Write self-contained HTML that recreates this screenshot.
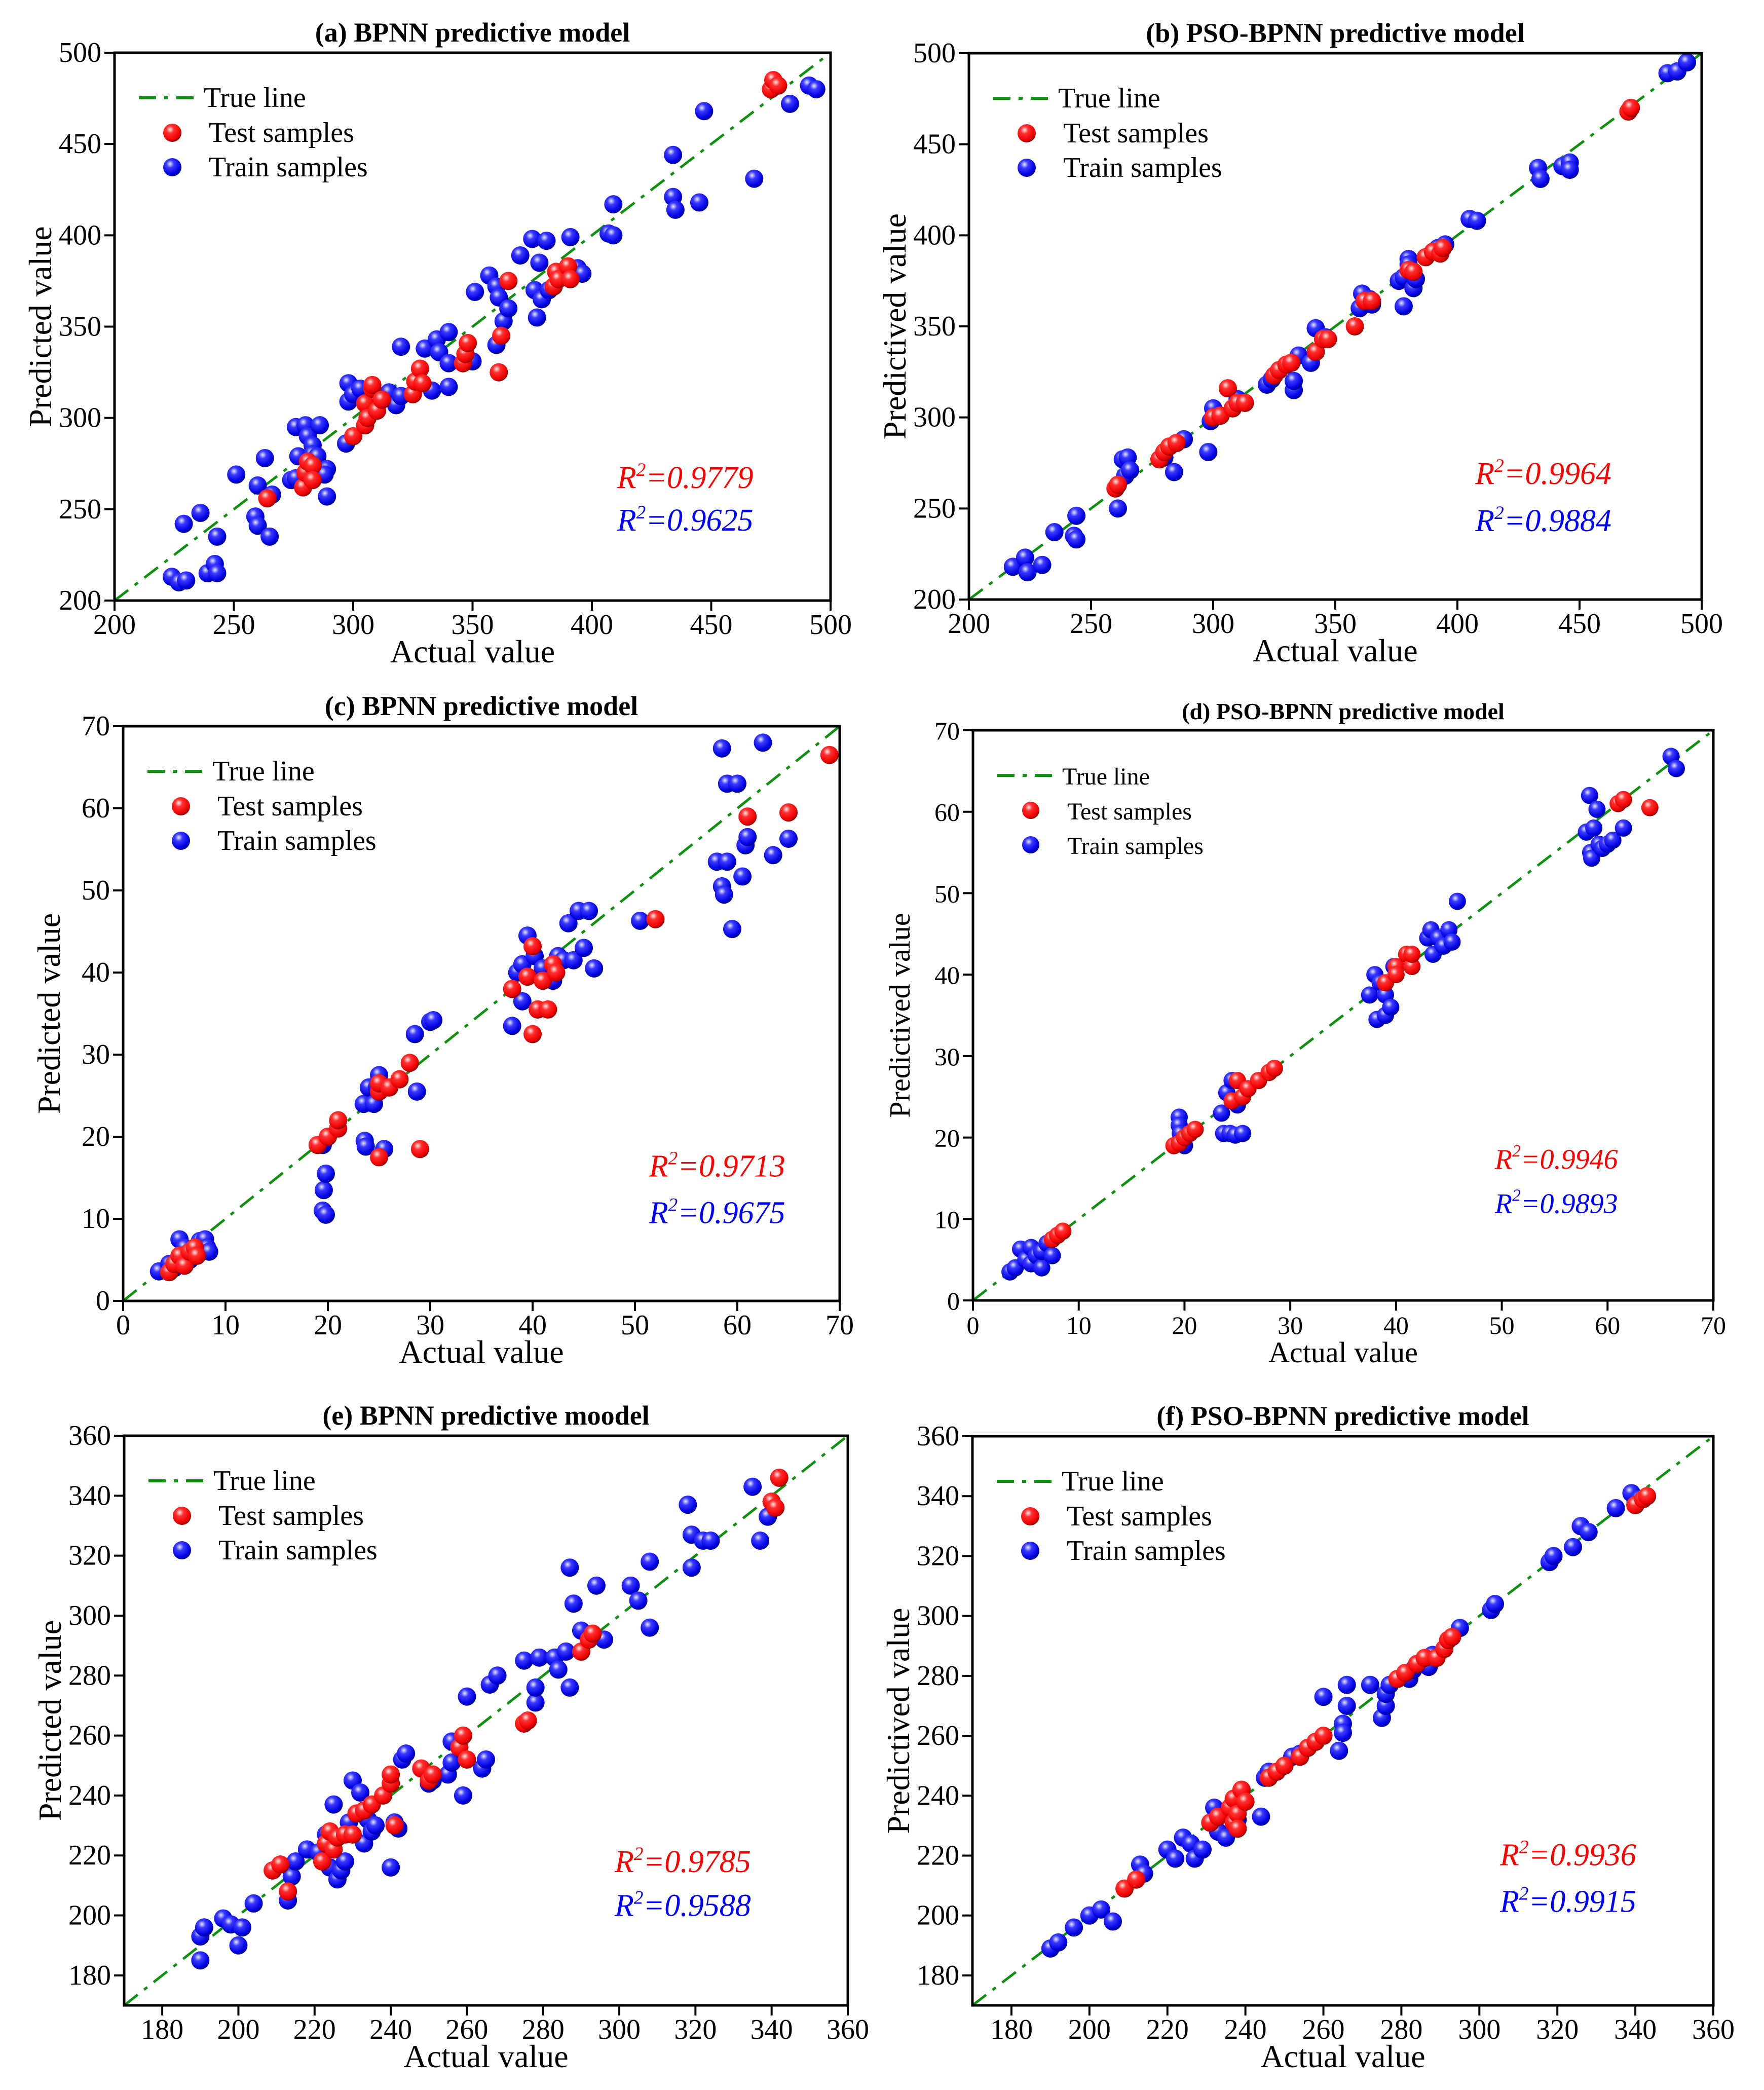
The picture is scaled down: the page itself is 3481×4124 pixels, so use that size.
<!DOCTYPE html>
<html><head><meta charset="utf-8">
<style>
html,body{margin:0;padding:0;background:#fff;}
svg{display:block;}
svg text{font-family:"Liberation Serif","DejaVu Serif",serif !important;}
</style></head>
<body>
<svg id="fig" width="3481" height="4124" viewBox="0 0 3481 4124" xmlns="http://www.w3.org/2000/svg" font-family="'Liberation Serif', 'DejaVu Serif', serif">
<defs>
<radialGradient id="gBlue" cx="0.38" cy="0.32" r="0.7">
<stop offset="0" stop-color="#e8e8ff"/><stop offset="0.3" stop-color="#3a3aff"/><stop offset="0.8" stop-color="#0000e0"/><stop offset="1" stop-color="#00008a"/>
</radialGradient>
<radialGradient id="gRed" cx="0.38" cy="0.32" r="0.7">
<stop offset="0" stop-color="#ffe8e8"/><stop offset="0.3" stop-color="#ff3030"/><stop offset="0.8" stop-color="#ee0000"/><stop offset="1" stop-color="#8a0000"/>
</radialGradient>
</defs>
</svg>
<script>
// ---------- data (actual, predicted) ----------
const aTrain=[[224,213],[227,210],[230,211],[229,242],[236,248],[239,215],[242,220],[243,215],[243,235],[251,269],[259,246],[260,241],[260,263],[263,278],[266,258],[265,235],[274,266],[276,267],[276,295],[277,279],[280,296],[281,290],[283,285],[283,280],[285,279],[286,296],[289,272],[289,257],[288,269],[297,286],[298,309],[298,319],[300,313],[303,316],[315,314],[318,307],[320,339],[320,312],[333,315],[330,338],[335,343],[336,336],[340,347],[340,330],[340,317],[350,331],[351,369],[357,378],[360,340],[360,372],[361,366],[363,353],[365,360],[370,389],[375,398],[376,370],[377,355],[378,385],[379,365],[381,397],[382,370],[391,399],[394,382],[396,379],[407,401],[409,417],[409,400],[434,444],[434,421],[435,414],[445,418],[447,468],[468,431],[483,472],[491,482],[494,480]];
const aTest=[[264,256],[279,262],[280,270],[281,276],[283,274],[283,266],[300,290],[305,296],[305,308],[306,300],[308,316],[308,318],[310,304],[312,310],[325,313],[326,320],[328,327],[329,319],[346,330],[347,335],[348,341],[361,325],[362,345],[365,375],[384,372],[385,380],[386,376],[390,383],[391,376],[475,480],[476,485],[478,482]];
const bTrain=[[218,218],[223,223],[224,215],[230,219],[235,237],[243,235],[244,246],[244,233],[261,250],[263,277],[265,278],[264,268],[266,271],[280,278],[284,270],[288,288],[298,281],[299,298],[300,305],[310,310],[322,318],[324,321],[333,315],[333,320],[335,334],[340,330],[342,349],[346,344],[360,360],[361,368],[364,365],[365,362],[376,375],[378,377],[378,361],[380,387],[380,384],[382,371],[383,376],[392,393],[395,395],[405,409],[408,408],[433,437],[434,431],[443,438],[446,440],[446,436],[486,489],[490,490],[494,495]];
const bTest=[[260,261],[261,263],[278,277],[280,281],[282,284],[285,286],[300,300],[303,301],[306,316],[308,305],[310,308],[313,308],[325,323],[327,326],[330,329],[332,330],[342,336],[345,343],[347,343],[358,350],[362,364],[365,364],[380,381],[382,380],[387,388],[390,391],[393,390],[394,393],[470,468],[471,470]];
const cTrain=[[3.5,3.6],[4.5,4.5],[5,4],[5.5,7.5],[5.8,5],[6,6.5],[6.5,5],[7,6],[7.5,7.3],[8,7.5],[8.2,6.5],[8.4,6],[19.5,11],[19.6,13.5],[19.8,15.5],[19.8,10.5],[19.5,19],[23.5,24],[23.6,19.5],[23.7,18.8],[24,26],[24.5,24],[25,27.5],[25.5,18.5],[24.8,26],[28.5,32.5],[28.7,25.5],[30,34],[30.3,34.2],[38,33.5],[38.5,40],[39,41],[39,36.5],[39.5,44.5],[40.2,42],[41,40.5],[42,39],[42.5,42],[43,41.5],[43.5,46],[44,41.5],[44.5,47.5],[45,43],[45.5,47.5],[46,40.5],[50.5,46.3],[58,53.5],[58.5,67.3],[58.5,50.5],[58.7,49.5],[59,53.5],[59,63],[59.5,45.3],[60,63],[60.5,51.7],[60.8,55.5],[61,56.5],[62.5,68],[63.5,54.3],[65,56.3]];
const cTest=[[4.5,3.5],[5,4.5],[5.5,5.5],[6,4.3],[6.5,6],[7,6.5],[7.2,5.5],[19,19],[20,20],[21,21],[21,22],[25,17.5],[25,25.5],[25,26.5],[26,26],[27,27],[28,29],[29,18.5],[38,38],[39.5,39.5],[40,43.2],[40,32.5],[40.5,35.5],[41,39],[41.5,35.5],[42,41],[42.3,40],[52,46.5],[61,59],[65,59.5],[69,66.5]];
const dTrain=[[3.5,3.5],[4,4],[4.5,6.3],[5,5],[5.5,6.5],[5.5,4.5],[6,5.5],[6.5,4],[6.5,6],[7,7],[7.5,5.5],[19.5,22.5],[19.5,21.5],[19.6,20.5],[20,19],[23.5,23],[23.7,20.5],[24,25.5],[24.3,20.5],[24.5,27],[24.8,20.3],[25,24],[25.5,20.5],[37.5,37.5],[38,40],[38.2,34.5],[38.5,39],[39,37.5],[39,35],[39.5,36],[39.8,41],[43,44.5],[43.3,45.5],[43.5,42.5],[44,44.5],[44.5,43.5],[45,45.5],[45.3,44],[45.8,49],[58,57.5],[58.3,62],[58.4,55],[58.5,54.3],[58.7,58],[59,60.3],[59.2,56],[59.5,55.5],[60,56],[60.5,56.5],[61.5,58],[66,66.8],[66.5,65.3]];
const dTest=[[7.5,7.5],[8,8],[8.5,8.5],[19,19],[19.5,19.3],[20,20],[20.5,20.5],[21,21],[24.5,24.5],[25,27],[25.5,25],[26,26],[27,27],[28,28],[28.5,28.5],[39,39],[40,41],[40,40],[41,42.5],[41.5,41],[41.5,42.5],[61,61],[61.5,61.5],[64,60.5]];
const eTrain=[[190,185],[190,193],[191,196],[196,199],[198,197],[200,190],[201,196],[204,204],[213,205],[214,213],[215,218],[218,222],[221,221],[223,227],[224,216],[225,237],[226,212],[227,215],[228,218],[229,231],[230,245],[232,241],[233,224],[234,232],[235,228],[236,230],[240,216],[241,231],[242,229],[243,252],[244,254],[250,244],[251,245],[255,247],[256,251],[256,258],[259,240],[260,273],[264,249],[265,252],[266,277],[268,280],[275,285],[278,271],[278,276],[279,286],[283,286],[284,282],[286,288],[287,276],[287,316],[288,304],[290,295],[294,310],[296,292],[303,310],[305,305],[308,296],[308,318],[318,337],[319,327],[319,316],[322,325],[324,325],[335,343],[337,325],[339,333]];
const eTest=[[209,215],[211,217],[213,208],[222,218],[223,224],[224,228],[225,222],[226,226],[228,227],[230,227],[231,234],[233,235],[235,237],[238,240],[240,244],[240,247],[241,230],[248,249],[250,245],[251,247],[258,256],[259,260],[260,252],[275,264],[276,265],[290,288],[292,292],[293,294],[340,338],[341,336],[342,346]];
const fTrain=[[190,189],[192,191],[196,196],[200,200],[203,202],[206,198],[213,217],[214,214],[220,222],[222,219],[224,226],[226,224],[227,219],[229,222],[231,231],[232,236],[233,228],[235,226],[238,232],[244,233],[245,246],[246,248],[252,253],[254,254],[260,273],[264,255],[265,264],[265,261],[266,270],[266,277],[272,277],[275,266],[276,270],[276,274],[277,277],[282,279],[283,282],[286,284],[287,283],[288,287],[295,296],[303,302],[304,304],[318,318],[319,320],[324,323],[326,330],[328,328],[335,336],[339,341],[341,339]];
const fTest=[[209,209],[212,212],[231,231],[233,233],[236,236],[237,231],[237,239],[238,234],[238,229],[239,242],[240,238],[246,246],[248,248],[250,250],[254,253],[256,256],[258,258],[260,260],[279,279],[281,281],[284,284],[286,286],[289,286],[291,289],[292,292],[293,293],[340,337],[342,339],[343,340]];
const ticksA=[200,250,300,350,400,450,500];
const ticksC=[0,10,20,30,40,50,60,70];
const ticksE=[180,200,220,240,260,280,300,320,340,360];
const r2A=["0.9779","0.9625"], r2B=["0.9964","0.9884"], r2C=["0.9713","0.9675"], r2D=["0.9946","0.9893"], r2E=["0.9785","0.9588"], r2F=["0.9936","0.9915"];

const NS="http://www.w3.org/2000/svg";
const FONT="'Liberation Serif', 'DejaVu Serif', serif";
const svg=document.getElementById('fig');
function mk(tag,attrs,parent){const e=document.createElementNS(NS,tag);for(const k in attrs)e.setAttribute(k,attrs[k]);if(tag==='text')e.setAttribute('font-family',FONT);(parent||svg).appendChild(e);return e;}

const panels=[
 {id:'a',title:'(a) BPNN predictive model',ylab:'Predicted value',L:226,T:104,R:1639,B:1185,min:200,max:500,ticks:ticksA,train:aTrain,test:aTest,r2:r2A,rx:0.797,ry:[0.776,0.854],fs:56,ts:54,lf:56,rf:62},
 {id:'b',title:'(b) PSO-BPNN predictive model',ylab:'Predictived value',L:1912,T:105,R:3358,B:1183,min:200,max:500,ticks:ticksA,train:bTrain,test:bTest,r2:r2B,rx:0.784,ry:[0.77,0.856],fs:56,ts:54,lf:56,rf:62},
 {id:'c',title:'(c) BPNN predictive model',ylab:'Predicted value',L:243,T:1433,R:1657,B:2567,min:0,max:70,ticks:ticksC,train:cTrain,test:cTest,r2:r2C,rx:0.829,ry:[0.766,0.847],fs:56,ts:54,lf:56,rf:62},
 {id:'d',title:'(d) PSO-BPNN predictive model',ylab:'Predictived value',L:1920,T:1441,R:3381,B:2566,min:0,max:70,ticks:ticksC,train:dTrain,test:dTest,r2:r2D,rx:0.788,ry:[0.751,0.829],fs:50,ts:46,lf:48,rf:56},
 {id:'e',title:'(e) BPNN predictive moodel',ylab:'Predicted value',L:245,T:2833,R:1673,B:3957,min:170,max:360,ticks:ticksE,train:eTrain,test:eTest,r2:r2E,rx:0.772,ry:[0.748,0.825],fs:56,ts:54,lf:56,rf:62},
 {id:'f',title:'(f) PSO-BPNN predictive model',ylab:'Predictived value',L:1919,T:2834,R:3381,B:3957,min:170,max:360,ticks:ticksE,train:fTrain,test:fTest,r2:r2F,rx:0.804,ry:[0.736,0.818],fs:56,ts:54,lf:56,rf:62}
];

panels.forEach(p=>{
 const g=mk('g',{});
 
 
 const W=p.R-p.L,H=p.B-p.T;
 const sx=v=>p.L+(v-p.min)/(p.max-p.min)*W;
 const sy=v=>p.B-(v-p.min)/(p.max-p.min)*H;
 const t=mk('text',{x:(p.L+p.R)/2,y:p.T-22,'text-anchor':'middle','font-size':p.ts,'font-weight':'bold'},g);
 t.textContent=p.title;
 
 
 p.ticks.forEach(v=>{
  if(v<p.min||v>p.max) return;
  const x=sx(v),y=sy(v);
  mk('line',{x1:x,y1:p.B,x2:x,y2:p.B+20,stroke:'#000','stroke-width':4},g);
  mk('line',{x1:p.L-20,y1:y,x2:p.L,y2:y,stroke:'#000','stroke-width':4},g);
  const xl=mk('text',{x:x,y:p.B+66,'text-anchor':'middle','font-size':p.fs},g);
  xl.textContent=v;
  
  
  const yl=mk('text',{x:p.L-26,y:y+18,'text-anchor':'end','font-size':p.fs},g);
  yl.textContent=v;
  
  
 });
 const xt=mk('text',{x:(p.L+p.R)/2,y:p.B+122,'text-anchor':'middle','font-size':p.fs+8},g);
 xt.textContent='Actual value';
 
 
 const yx=p.L-125, yy=(p.T+p.B)/2;
 const yt=mk('text',{x:yx,y:yy,'text-anchor':'middle','font-size':p.fs+8,transform:`rotate(-90 ${yx} ${yy})`},g);
 yt.textContent=p.ylab;
 
 
 const tl=mk('line',{x1:sx(p.min),y1:sy(p.min),x2:sx(p.max),y2:sy(p.max),stroke:'#109010','stroke-width':5,'stroke-dasharray':'34 16 8 16'},g);
 
 
 const r=p.id==='d'?17:18;
 p.train.forEach(d=>{
  const c=mk('circle',{cx:sx(d[0]),cy:sy(d[1]),r:r,fill:'url(#gBlue)'},g);
  
  
 });
 p.test.forEach(d=>{
  const c=mk('circle',{cx:sx(d[0]),cy:sy(d[1]),r:r,fill:'url(#gRed)'},g);
  
  
 });
 const fr=mk('rect',{x:p.L,y:p.T,width:W,height:H,fill:'none',stroke:'#000','stroke-width':5},g);
 
 
 const lg=mk('g',{},g);
 
 
 const lx=p.L+48, rows=[p.T+89,p.T+158,p.T+226];
 mk('line',{x1:lx,y1:rows[0],x2:lx+118,y2:rows[0],stroke:'#109010','stroke-width':6,'stroke-dasharray':'34 16 8 16'},lg);
 mk('circle',{cx:lx+66,cy:rows[1],r:r,fill:'url(#gRed)'},lg);
 mk('circle',{cx:lx+66,cy:rows[2],r:r,fill:'url(#gBlue)'},lg);
 ['True line','Test samples','Train samples'].forEach((s,i)=>{
  const e=mk('text',{x:lx+(i===0?128:138),y:rows[i]+18,'font-size':p.lf},lg);
  e.textContent=s;
  
  
 });
 ['#ff0000','#0000ff'].forEach((col,i)=>{
  const e=mk('text',{x:p.L+p.rx*W,y:p.T+p.ry[i]*H+20,'text-anchor':'middle','font-size':p.rf,'font-style':'italic',fill:col},g);
  
  
  const a=mk('tspan',{},e);a.textContent='R';
  const b=mk('tspan',{dy:-24,'font-size':p.rf*0.6},e);b.textContent='2';
  const c=mk('tspan',{dy:24},e);c.textContent='='+p.r2[i];
 });
});
</script>
</body></html>
